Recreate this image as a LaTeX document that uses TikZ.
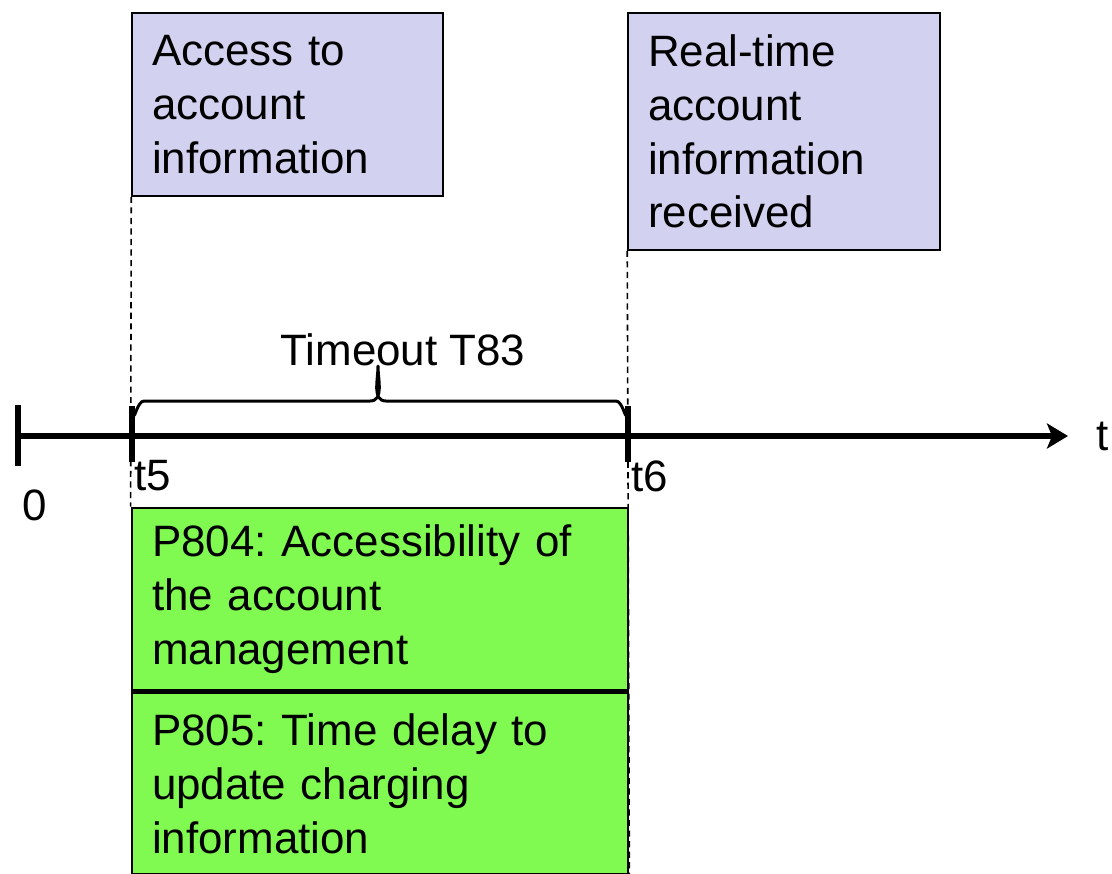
\documentclass[tikz,border=0pt]{standalone}
\usepackage{fontspec}
\setmainfont{Liberation Sans}
\usetikzlibrary{positioning,calc,arrows.meta}
\definecolor{event}{RGB}{210,210,240}
\definecolor{param}{RGB}{128,250,80}
\frenchspacing

\tikzset{
    evbox/.style={draw,line width=0.9pt,fill=event,text width=#1,inner xsep=0.4cm,align=left},
    parbox/.style={draw,line width=1.6pt,fill=param,minimum width=9.92cm,minimum height=3.64cm,text width=9.12cm,inner xsep=0.4cm,align=left},
    guide/.style={line width=0.9pt,dash pattern=on 3.5pt off 2.5pt},
    tick/.style={line width=3.2pt}
}

\begin{document}
\begin{tikzpicture}[x=0.02cm,y=-0.02cm,font=\fontsize{25}{30.6}\selectfont]
    \useasboundingbox (0,0) rectangle (1112,873);

    \node[evbox=5.42cm,minimum width=6.22cm,minimum height=3.66cm] (access) at (287.5,104.5) {Access to\\account\\information};
    \node[evbox=5.44cm,minimum width=6.24cm,minimum height=4.74cm] (received) at (784,131.5) {Real-time\\account\\information\\received};

    \node[parbox] (p804) at (380,599) {P804: Accessibility of\\the account\\management};
    \node[parbox,anchor=north] (p805) at (p804.south) {P805: Time delay to\\update charging\\information};

    \draw[guide] (access.south west) -- (p804.north west);
    \draw[guide] (received.south west) -- (p805.south east);

    % time axis
    \coordinate (zero) at (18,436);
    \coordinate (tfive) at (132,436);
    \coordinate (tsix) at (628,436);
    \coordinate (tend) at (1068,436);
    \draw[line width=3.2pt,-{Stealth[length=0.42cm,width=0.5cm,inset=0.1cm]}] (zero) -- (tend);
    \draw[tick] ($(zero)+(0,-31)$) -- ($(zero)+(0,30)$);
    \draw[tick] ($(tfive)+(0,-30)$) -- ($(tfive)+(0,26)$);
    \draw[tick] ($(tsix)+(0,-30)$) -- ($(tsix)+(0,26)$);

    \node (lzero) at (35,505) {0};
    \node (lfive) at (153,476) {t5};
    \node (lsix) at (650,476) {t6};
    \node (lt) at (1103,436) {t};

    % brace over the timeout
    \draw[line width=1.7pt,line join=round] (134,414) to[out=-90,in=180] (144,401) -- (370,401)
        to[out=0,in=-90] (378,366) to[out=-90,in=180] (386,401) -- (616,401) to[out=0,in=-90] (626,414);
    \node (timeout) at (403,350) {Timeout T83};
\end{tikzpicture}
\end{document}
